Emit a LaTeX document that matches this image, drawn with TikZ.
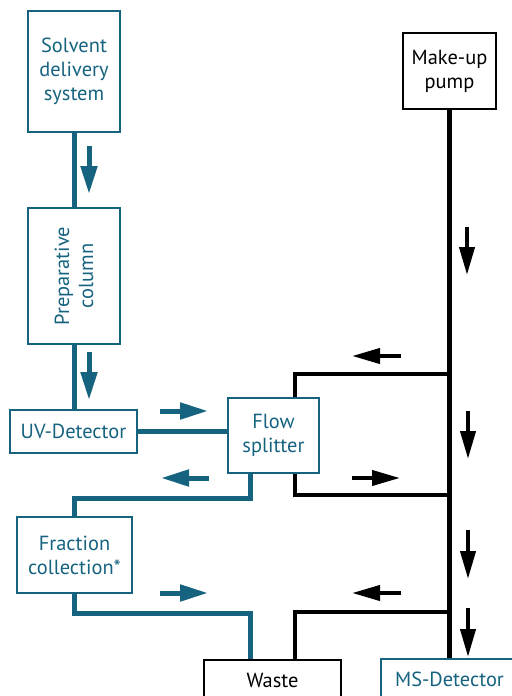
\documentclass[tikz,border=0pt]{standalone}
\usepackage{fontspec}
\setmainfont{PT Sans}
\usetikzlibrary{arrows.meta,calc}
\definecolor{tealc}{RGB}{22,99,128}
\begin{document}
\begin{tikzpicture}[x=1bp,y=-1bp,
 box/.style={draw=tealc,line width=2.5bp,text=tealc,align=center,inner sep=0pt,font=\fontsize{20.5}{24}\selectfont},
 bbox/.style={box,draw=black,text=black},
 lbl/.style={text=tealc,align=center,inner sep=0pt,font=\fontsize{20.5}{24}\selectfont},
 pipe/.style={tealc,line width=5bp},
 bpipe/.style={black,line width=4.5bp},
 flow/.style={tealc,line width=5bp,-{Triangle[length=28bp,width=16bp]}},
 bflow/.style={black,line width=4bp,-{Triangle[length=28bp,width=15bp]}},
]
\useasboundingbox (0,0) rectangle (512,696);
\clip (0,0) rectangle (512,696);
\fill[white] (0,0) rectangle (512,696);

% nodes
\node[box,minimum width=92bp,minimum height=121bp] (solvent) at (74,71.5) {Solvent\\delivery\\system};
\node[box,minimum width=92bp,minimum height=136bp] (prep) at (74,276) {};
\node[lbl,rotate=90] (preplbl) at (prep.center) {Preparative\\column};
\node[box,minimum width=127bp,minimum height=43bp] (uv) at (73.5,431.5) {UV-Detector};
\node[box,minimum width=91bp,minimum height=75bp] (fs) at (273.5,435.5) {Flow\\splitter};
\node[box,minimum width=115bp,minimum height=76bp] (frac) at (74.5,555) {Fraction\\collection*};
\node[bbox,minimum width=93bp,minimum height=76bp] (pump) at (449.5,71) {Make-up\\pump};
\node[bbox,minimum width=137bp,minimum height=40bp] (waste) at (272.5,680) {Waste};
\node[box,minimum width=137bp,minimum height=40bp] (ms) at (449.5,679) {MS-Detector};

% junctions on the make-up line
\coordinate (j1) at (449.5,374);
\coordinate (j2) at (449.5,495);
\coordinate (j3) at (449.5,612);

% teal connectors
\draw[pipe] (solvent.south) -- (prep.north);
\draw[pipe] (prep.south) -- (prep.south |- uv.north);
\draw[pipe] (uv.east) -- (uv.east -| fs.west);
\draw[pipe] ($(fs.south)+(-23.5,0)$) -- ++(0,24) -| (frac.north);
\draw[pipe] (frac.south) -- ++(0,19) -| ($(waste.north)+(-22.5,0)$);

% black connectors
\draw[bpipe] (pump.south) -- (ms.north);
\draw[bpipe] ($(fs.north)+(21.5,0)$) |- (j1);
\draw[bpipe] ($(fs.south)+(21.5,0)$) |- (j2);
\draw[bpipe] ($(waste.north)+(22.5,0)$) |- (j3);

% flow arrows
\draw[flow] (89,146) -- (89,194);
\draw[flow] (89,352) -- (89,400);
\draw[flow] (160,411) -- (208,411);
\draw[flow] (209,478) -- (161,478);
\draw[flow] (160,593) -- (208,593);
\draw[bflow] (401,356) -- (352,356);
\draw[bflow] (352,478) -- (400,478);
\draw[bflow] (401,593) -- (352,593);
\draw[bflow] (467,227) -- (467,275);
\draw[bflow] (468,411) -- (468,459);
\draw[bflow] (468,530) -- (468,579);
\draw[bflow] (468,608) -- (468,657);
\end{tikzpicture}
\end{document}
